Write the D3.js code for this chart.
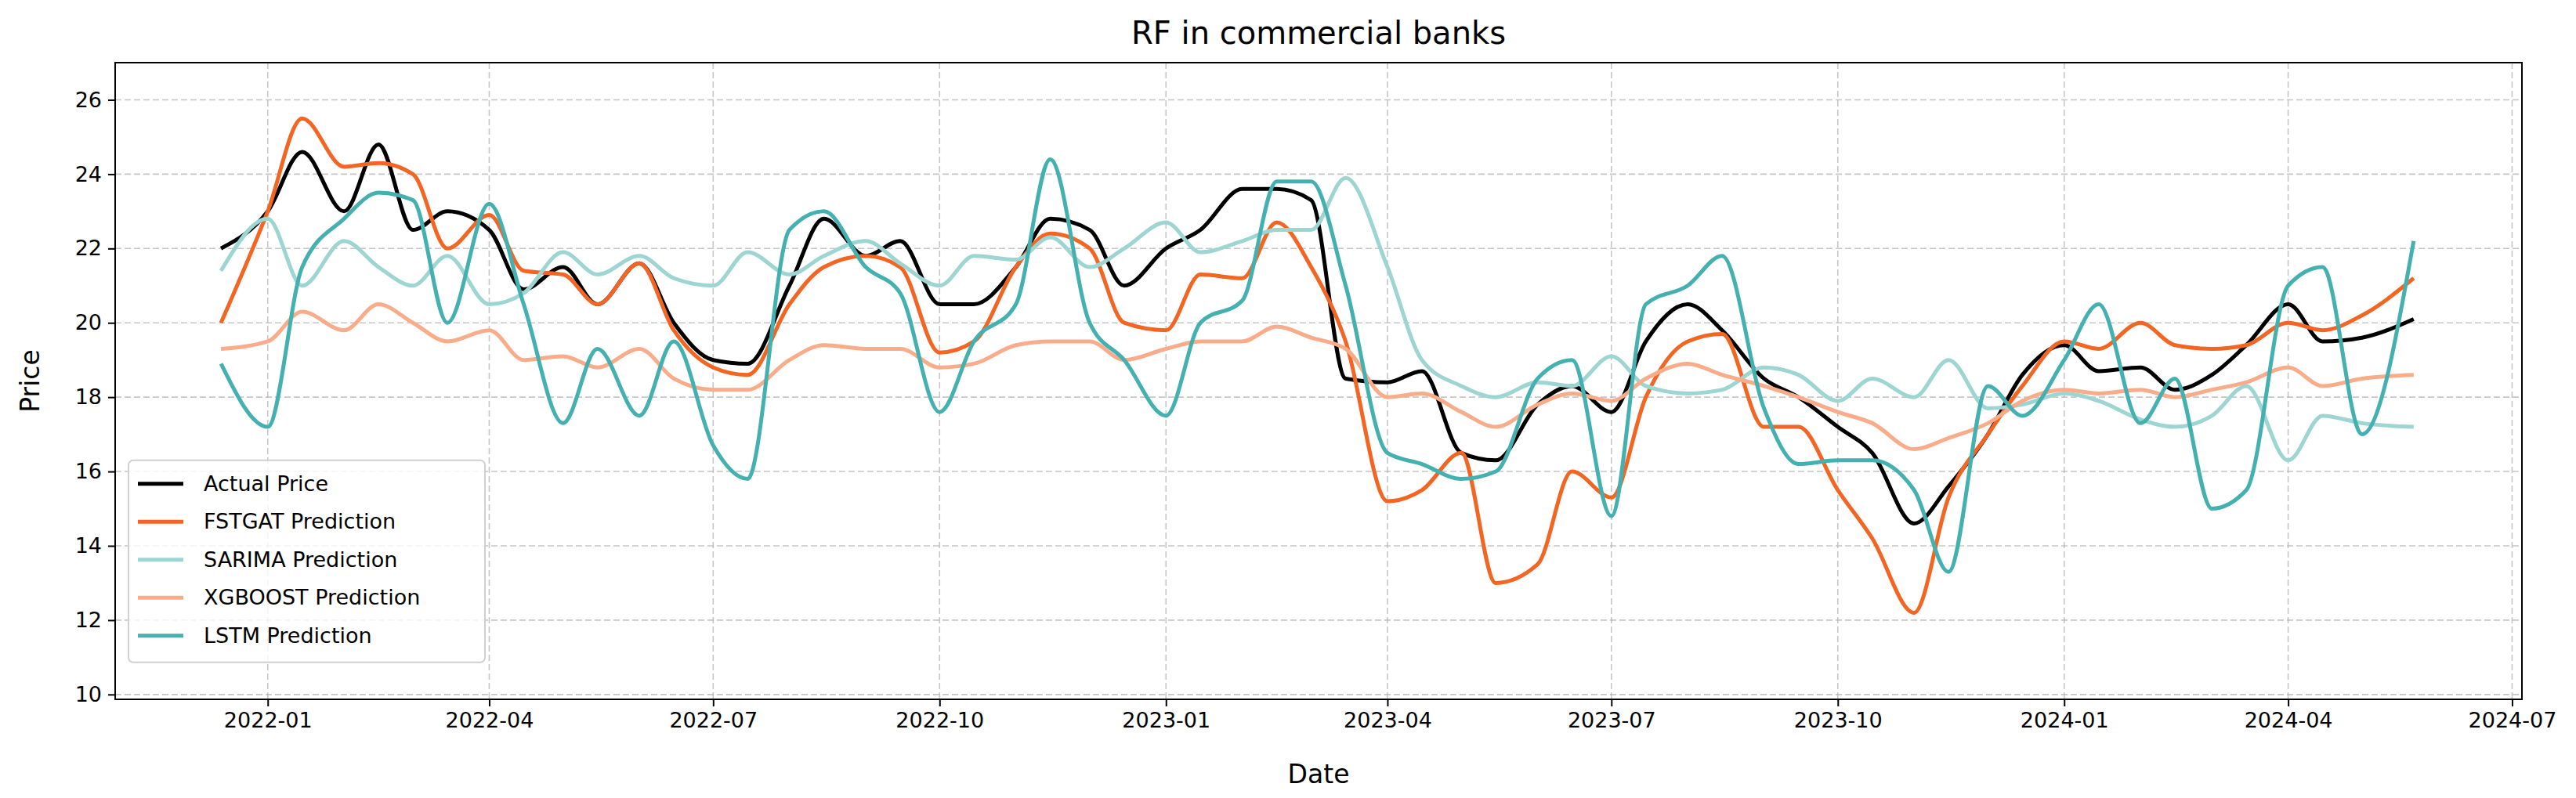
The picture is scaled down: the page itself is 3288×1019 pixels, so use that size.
<!DOCTYPE html>
<meta charset="utf-8">
<script src="https://d3js.org/d3.v7.min.js"></script>
<style>body{margin:0;background:#fff}</style>
<div id="chart"></div>
<script>
// semi-monthly sample dates
const dates = ["2021-12-13",
  "2022-01-01","2022-01-15","2022-02-01","2022-02-15","2022-03-01","2022-03-15","2022-04-01","2022-04-15","2022-05-01","2022-05-15","2022-06-01","2022-06-15",
  "2022-07-01","2022-07-15","2022-08-01","2022-08-15","2022-09-01","2022-09-15","2022-10-01","2022-10-15","2022-11-01","2022-11-15","2022-12-01","2022-12-15",
  "2023-01-01","2023-01-15","2023-02-01","2023-02-15","2023-03-01","2023-03-15","2023-04-01","2023-04-15","2023-05-01","2023-05-15","2023-06-01","2023-06-15",
  "2023-07-01","2023-07-15","2023-08-01","2023-08-15","2023-09-01","2023-09-15","2023-10-01","2023-10-15","2023-11-01","2023-11-15","2023-12-01","2023-12-15",
  "2024-01-01","2024-01-15","2024-02-01","2024-02-15","2024-03-01","2024-03-15","2024-04-01","2024-04-15","2024-05-01","2024-05-22"];

const actual = [22.0,
  23.0,24.6,23.0,24.8,22.5,23.0,22.5,20.9,21.5,20.5,21.6,20.0,
  19.0,18.9,21.0,22.8,21.8,22.2,20.5,20.5,21.5,22.8,22.5,21.0,
  22.0,22.5,23.6,23.6,23.3,18.5,18.4,18.7,16.5,16.3,17.8,18.3,
  17.6,19.5,20.5,19.8,18.5,18.0,17.2,16.5,14.6,15.6,17.0,18.6,
  19.4,18.7,18.8,18.2,18.6,19.4,20.5,19.5,19.6,20.1];
const fstgat = [20.0,
  23.0,25.5,24.2,24.3,24.0,22.0,22.9,21.4,21.3,20.5,21.6,19.8,
  18.8,18.6,20.5,21.5,21.8,21.5,19.2,19.5,21.5,22.4,22.0,20.0,
  19.8,21.3,21.2,22.7,21.5,19.5,15.2,15.5,16.5,13.0,13.5,16.0,
  15.3,18.0,19.5,19.7,17.2,17.2,15.5,14.2,12.2,15.3,17.0,18.3,
  19.5,19.3,20.0,19.4,19.3,19.4,20.0,19.8,20.2,21.2];
const sarima = [21.4,
  22.8,21.0,22.2,21.5,21.0,21.8,20.5,20.8,21.9,21.3,21.8,21.2,
  21.0,21.9,21.3,21.8,22.2,21.6,21.0,21.8,21.7,22.3,21.5,22.0,
  22.7,21.9,22.2,22.5,22.5,23.9,21.5,19.0,18.3,18.0,18.4,18.3,
  19.1,18.3,18.1,18.2,18.8,18.6,17.9,18.5,18.0,19.0,17.7,17.8,
  18.1,17.9,17.4,17.2,17.5,18.3,16.3,17.5,17.3,17.2];
const xgboost = [19.3,
  19.5,20.3,19.8,20.5,20.0,19.5,19.8,19.0,19.1,18.8,19.3,18.5,
  18.2,18.2,19.0,19.4,19.3,19.3,18.8,18.9,19.4,19.5,19.5,19.0,
  19.3,19.5,19.5,19.9,19.6,19.3,18.0,18.1,17.6,17.2,17.8,18.1,
  17.9,18.5,18.9,18.6,18.3,18.0,17.6,17.3,16.6,16.9,17.3,17.9,
  18.2,18.1,18.2,18.0,18.2,18.4,18.8,18.3,18.5,18.6];
const lstm = [18.9,
  17.2,21.5,22.8,23.5,23.3,20.0,23.2,20.5,17.3,19.3,17.5,19.5,
  16.7,15.8,22.5,23.0,21.5,20.8,17.6,19.5,20.5,24.4,20.0,19.0,
  17.5,20.0,20.6,23.8,23.8,21.0,16.5,16.2,15.8,16.0,18.5,19.0,
  14.8,20.5,21.0,21.8,17.7,16.2,16.3,16.3,15.5,13.3,18.3,17.5,
  19.0,20.5,17.3,18.5,15.0,15.5,21.0,21.5,17.0,22.2];

const seriesNames = ["Actual Price","FSTGAT Prediction","SARIMA Prediction","XGBOOST Prediction","LSTM Prediction"];
const seriesValues = [actual, fstgat, sarima, xgboost, lstm];
const seriesColors = ["#000000","#f26522","#9dd5d2","#f9ac8a","#45b0b0"];
const drawOrder = [0,1,2,3,4];
const yTicks = [10,12,14,16,18,20,22,24,26];

const W = 3288, H = 1019;
const margin = {top: 80, right: 69, bottom: 126, left: 147};
const width = W - margin.left - margin.right, height = H - margin.top - margin.bottom;
const parse = d3.timeParse("%Y-%m-%d");
const dd = dates.map(parse);

const svg = d3.select("#chart").append("svg").attr("width", W).attr("height", H)
  .style("font-family", "DejaVu Sans");
const g = svg.append("g").attr("transform", `translate(${margin.left},${margin.top})`);

const x = d3.scaleTime().domain([parse("2021-10-31"), parse("2024-07-05")]).range([0, width]);
const y = d3.scaleLinear().domain([9.87, 27.0]).range([height, 0]);
const xTicks = d3.timeMonth.every(3).range(parse("2022-01-01"), parse("2024-07-02"));

// grid
g.selectAll(".gx").data(xTicks).join("line")
  .attr("x1", d => x(d)).attr("x2", d => x(d)).attr("y1", 0).attr("y2", height)
  .attr("stroke", "#b0b0b0").attr("stroke-width", 1.6).attr("stroke-dasharray", "8,4").attr("opacity", 0.7);
g.selectAll(".gy").data(yTicks).join("line")
  .attr("y1", d => y(d)).attr("y2", d => y(d)).attr("x1", 0).attr("x2", width)
  .attr("stroke", "#b0b0b0").attr("stroke-width", 1.6).attr("stroke-dasharray", "8,4").attr("opacity", 0.7);

const line = d3.line().x((d, i) => x(dd[i])).y(d => y(d)).curve(d3.curveMonotoneX);
drawOrder.forEach(k => {
  g.append("path").datum(seriesValues[k]).attr("d", line)
    .attr("fill", "none").attr("stroke", seriesColors[k]).attr("stroke-width", 5)
    .attr("stroke-linejoin", "round");
});

// axes
const xa = g.append("g").attr("transform", `translate(0,${height})`)
  .call(d3.axisBottom(x).tickValues(xTicks).tickFormat(d3.timeFormat("%Y-%m")).tickSize(9).tickPadding(8));
const ya = g.append("g").call(d3.axisLeft(y).tickValues(yTicks).tickSize(9).tickPadding(8));
[xa, ya].forEach(a => {
  a.selectAll("text").attr("font-size", 27).attr("fill", "#000").attr("font-family", "DejaVu Sans");
  a.selectAll("line").attr("stroke-width", 2);
  a.select(".domain").remove();
});
g.append("rect").attr("width", width).attr("height", height)
  .attr("fill", "none").attr("stroke", "#000").attr("stroke-width", 2);

svg.append("text").attr("x", margin.left + width / 2).attr("y", 56).attr("text-anchor", "middle")
  .attr("font-size", 40).text("RF in commercial banks");
svg.append("text").attr("x", margin.left + width / 2).attr("y", 1000).attr("text-anchor", "middle")
  .attr("font-size", 33).text("Date");
svg.append("text").attr("transform", `translate(50,${margin.top + height / 2}) rotate(-90)`)
  .attr("text-anchor", "middle").attr("font-size", 33).text("Price");

// legend
const lg = g.append("g").attr("transform", `translate(17,${y(16.3)})`);
lg.append("rect").attr("width", 455).attr("height", 258).attr("rx", 6)
  .attr("fill", "#fff").attr("fill-opacity", 0.8).attr("stroke", "#d0d0d0").attr("stroke-width", 2);
seriesNames.forEach((n, i) => {
  const yy = 30 + i * 48.5;
  lg.append("line").attr("x1", 12).attr("x2", 70).attr("y1", yy).attr("y2", yy)
    .attr("stroke", seriesColors[i]).attr("stroke-width", 5);
  lg.append("text").attr("x", 96).attr("y", yy + 9).attr("font-size", 27).text(n);
});
</script>
